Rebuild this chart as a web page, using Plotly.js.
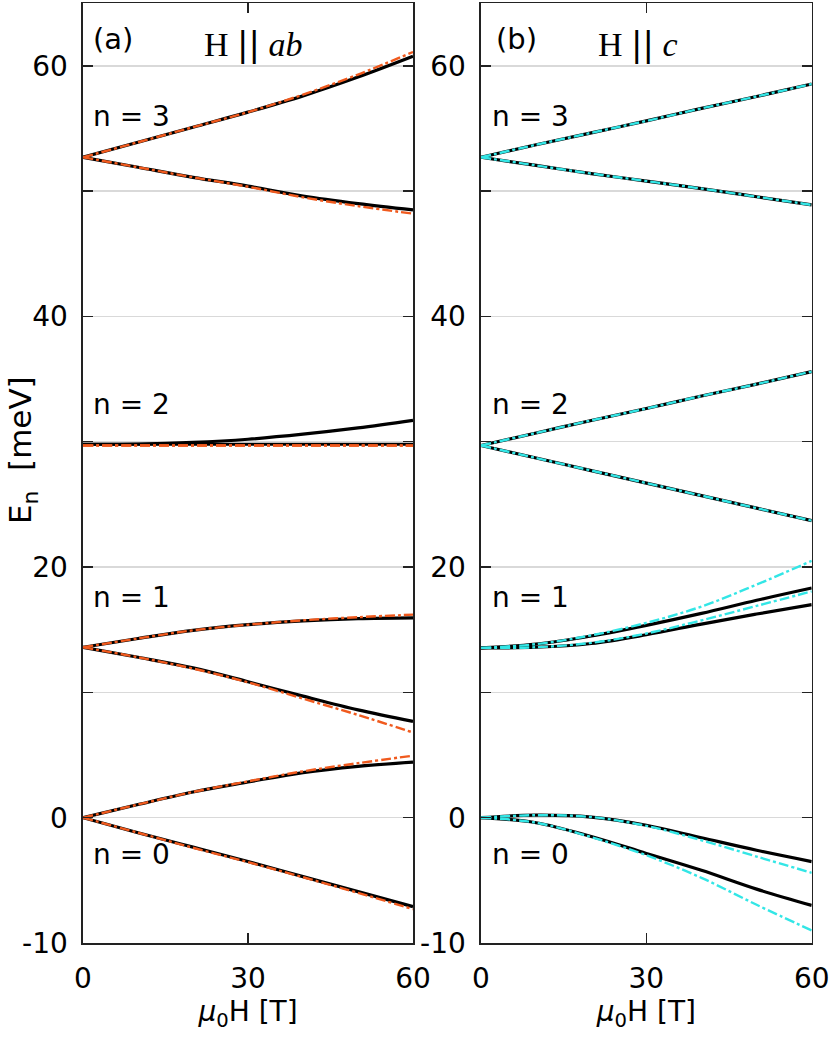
<!DOCTYPE html>
<html>
<head>
<meta charset="utf-8">
<script src="https://cdn.plot.ly/plotly-3.0.1.min.js"></script>
<style>html,body{margin:0;padding:0;background:#fff}#plot{width:830px;height:1042px}</style>
</head>
<body>
<div id="plot"></div>
<script>
// Magnetic field (T)
const H = [0, 10, 20, 30, 40, 50, 60];

// Panel (a) H || ab : black solid curves
const a_n3_up = [52.7, 53.9, 55.1, 56.3, 57.6, 59.1, 60.76];
const a_n3_dn = [52.7, 51.9, 51.1, 50.4, 49.6, 49.0, 48.5];
const a_n2_up = [29.8, 29.82, 29.95, 30.2, 30.6, 31.1, 31.7];
const a_n2_dn = [29.8, 29.8, 29.8, 29.8, 29.8, 29.8, 29.8];
const a_n1_up = [13.6, 14.3, 14.95, 15.4, 15.7, 15.88, 15.94];
const a_n1_dn = [13.6, 12.8, 11.95, 10.85, 9.7, 8.6, 7.69];
const a_n0_up = [0, 1.05, 2.05, 2.85, 3.6, 4.1, 4.44];
const a_n0_dn = [0, -1.2, -2.35, -3.5, -4.7, -5.9, -7.1];
// Panel (a) : orange dash-dot curves
const a_fit_n3_up = [52.7, 53.9, 55.1, 56.3, 57.7, 59.3, 61.1];
const a_fit_n3_dn = [52.7, 51.9, 51.1, 50.35, 49.5, 48.8, 48.2];
const a_fit_n2_up = [29.7, 29.7, 29.7, 29.7, 29.7, 29.7, 29.7];
const a_fit_n2_dn = [29.7, 29.7, 29.7, 29.7, 29.7, 29.7, 29.68];
const a_fit_n1_up = [13.6, 14.3, 14.95, 15.4, 15.75, 16.0, 16.2];
const a_fit_n1_dn = [13.6, 12.8, 11.9, 10.8, 9.5, 8.2, 6.8];
const a_fit_n0_up = [0, 1.05, 2.05, 2.9, 3.7, 4.35, 4.95];
const a_fit_n0_dn = [0, -1.2, -2.4, -3.55, -4.75, -6.0, -7.3];

// Panel (b) H || c : black solid curves
const b_n3_up = [52.7, 53.7, 54.65, 55.6, 56.6, 57.55, 58.55];
const b_n3_dn = [52.7, 52.05, 51.4, 50.8, 50.2, 49.55, 48.9];
const b_n2_up = [29.7, 30.7, 31.7, 32.65, 33.65, 34.6, 35.6];
const b_n2_dn = [29.7, 28.7, 27.7, 26.7, 25.7, 24.7, 23.7];
const b_n1_up = [13.55, 13.85, 14.5, 15.35, 16.3, 17.35, 18.33];
const b_n1_dn = [13.55, 13.6, 13.9, 14.6, 15.45, 16.25, 17.0];
const b_n0_up = [0, 0.2, 0.05, -0.6, -1.6, -2.6, -3.5];
const b_n0_dn = [0, -0.4, -1.5, -2.85, -4.2, -5.7, -7.0];
// Panel (b) : cyan dash-dot curves
const b_fit_n3_up = [52.7, 53.7, 54.65, 55.6, 56.6, 57.55, 58.55];
const b_fit_n3_dn = [52.7, 52.05, 51.4, 50.8, 50.2, 49.55, 48.9];
const b_fit_n2_up = [29.7, 30.7, 31.7, 32.65, 33.65, 34.6, 35.6];
const b_fit_n2_dn = [29.7, 28.7, 27.7, 26.7, 25.7, 24.7, 23.7];
const b_fit_n1_up = [13.55, 13.85, 14.55, 15.55, 16.85, 18.6, 20.5];
const b_fit_n1_dn = [13.55, 13.6, 13.95, 14.7, 15.75, 16.9, 18.06];
const b_fit_n0_up = [0, 0.2, 0.05, -0.65, -1.8, -3.1, -4.4];
const b_fit_n0_dn = [0, -0.4, -1.55, -3.0, -4.8, -6.95, -9.0];

// Axis ticks and labels
const xTicks = [0, 30, 60];
const yTicks = [-10, 0, 10, 20, 30, 40, 50, 60];
const yTickText = ['-10', '0', '', '20', '', '40', '', '60'];
const levelLabels = ['n = 3', 'n = 2', 'n = 1', 'n = 0'];
const levelLabelY = [55.95, 32.96, 17.56, -2.95];

const ORANGE = '#f05a1e';
const CYAN = '#33e6e6';
const DASHDOT = '10px,3px,3px,3px';

const traces = [];
function solid(y, xa, ya) {
  traces.push({x: H, y: y, xaxis: xa, yaxis: ya, mode: 'lines', showlegend: false,
    line: {color: '#000', width: 3.2, shape: 'spline'}, hoverinfo: 'skip'});
}
function fit(y, xa, ya, c) {
  traces.push({x: H, y: y, xaxis: xa, yaxis: ya, mode: 'lines', showlegend: false,
    line: {color: c, width: 2.4, dash: DASHDOT, shape: 'spline'}, hoverinfo: 'skip'});
}
[a_n3_up, a_n3_dn, a_n2_up, a_n2_dn, a_n1_up, a_n1_dn, a_n0_up, a_n0_dn].forEach(y => solid(y, 'x', 'y'));
[a_fit_n3_up, a_fit_n3_dn, a_fit_n2_up, a_fit_n2_dn, a_fit_n1_up, a_fit_n1_dn, a_fit_n0_up, a_fit_n0_dn].forEach(y => fit(y, 'x', 'y', ORANGE));
[b_n3_up, b_n3_dn, b_n2_up, b_n2_dn, b_n1_up, b_n1_dn, b_n0_up, b_n0_dn].forEach(y => solid(y, 'x2', 'y2'));
[b_fit_n3_up, b_fit_n3_dn, b_fit_n2_up, b_fit_n2_dn, b_fit_n1_up, b_fit_n1_dn, b_fit_n0_up, b_fit_n0_dn].forEach(y => fit(y, 'x2', 'y2', CYAN));

const FONT = 'DejaVu Sans, Liberation Sans, Arial, sans-serif';
const SERIF = 'Liberation Serif, Times New Roman, serif';
const axColor = '#222';
function xax(domain, anchor) {
  return {domain: domain, anchor: anchor, range: [0, 60], tickvals: xTicks, ticks: 'inside', ticklen: 10, tickwidth: 1.5,
    tickcolor: axColor, showline: true, linecolor: axColor, linewidth: 1.6, mirror: 'ticks',
    showgrid: false, zeroline: false, ticklabelstandoff: 10,
    tickfont: {family: FONT, size: 28, color: '#000'},
    title: {text: '<i>μ</i><sub>0</sub>H [T]', font: {family: FONT, size: 28, color: '#000'}, standoff: 4}};
}
function yax(domain, anchor) {
  return {domain: domain, range: [-10, 65], tickvals: yTicks, ticktext: yTickText, ticks: 'inside',
    ticklen: 10, tickwidth: 1.5, tickcolor: axColor, showline: true, linecolor: axColor, linewidth: 1.6,
    mirror: 'ticks', showgrid: true, gridcolor: '#d9d9d9', gridwidth: 1.5, zeroline: false,
    ticklabelstandoff: 8, anchor: anchor, tickfont: {family: FONT, size: 28, color: '#000'}};
}

const annotations = [];
function txt(xref, yref, x, y, text, family, size, xanchor) {
  annotations.push({xref: xref, yref: yref, x: x, y: y, text: text, showarrow: false,
    xanchor: xanchor, yanchor: 'middle', font: {family: family, size: size, color: '#000'}});
}
txt('x', 'y', 1.5, 62.1, '(a)', FONT, 29, 'left');
txt('x2', 'y2', 2.3, 62.1, '(b)', FONT, 29, 'left');
txt('x', 'y', 30.9, 61.7, 'H <span style="font-family:DejaVu Sans">||</span> <i>ab</i>', SERIF, 34, 'center');
txt('x2', 'y2', 28.4, 61.7, 'H <span style="font-family:DejaVu Sans">||</span> <i>c</i>', SERIF, 34, 'center');
levelLabels.forEach((t, i) => {
  txt('x', 'y', 1.4, levelLabelY[i], t, FONT, 28, 'left');
  txt('x2', 'y2', 1.7, levelLabelY[i], t, FONT, 28, 'left');
});
// y-axis title (left panel only)
annotations.push({xref: 'paper', yref: 'paper', x: 22 / 830, y: 1 - 450 / 1042, text: 'E<sub>n</sub>  [meV]',
  textangle: -90, showarrow: false, xanchor: 'center', yanchor: 'middle',
  font: {family: FONT, size: 31, color: '#000'}});

const layout = {
  width: 830, height: 1042, margin: {l: 0, r: 0, t: 0, b: 0},
  paper_bgcolor: '#fff', plot_bgcolor: '#fff',
  xaxis: xax([0.1, 0.4976], 'y'),
  yaxis: yax([0.095, 0.997], 'x'),
  xaxis2: xax([0.5795, 0.978], 'y2'),
  yaxis2: yax([0.095, 0.997], 'x2'),
  annotations: annotations,
  font: {family: FONT}
};

Plotly.newPlot('plot', traces, layout, {staticPlot: true, displayModeBar: false});
</script>
</body>
</html>
